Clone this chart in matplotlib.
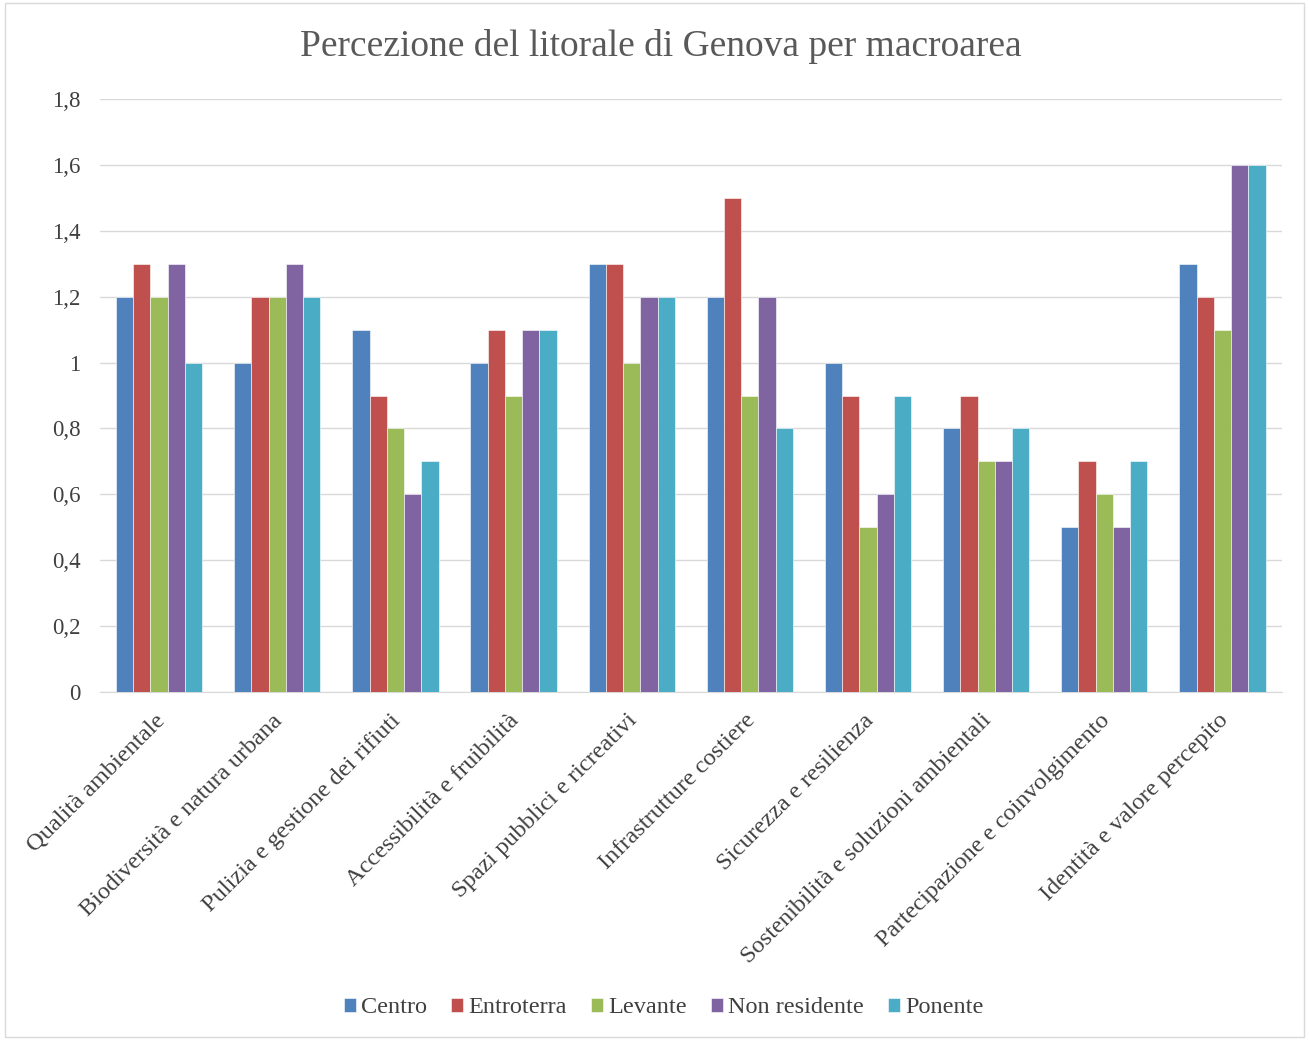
import matplotlib
matplotlib.use("Agg")
import matplotlib.pyplot as plt
import matplotlib.transforms as mtransforms
import numpy as np
from matplotlib.patches import Rectangle

plt.rcParams['font.family'] = ['Liberation Serif', 'DejaVu Serif']

categories = ["Qualità ambientale", "Biodiversità e natura urbana", "Pulizia e gestione dei rifiuti",
              "Accessibilità e fruibilità", "Spazi pubblici e ricreativi", "Infrastrutture costiere",
              "Sicurezza e resilienza", "Sostenibilità e soluzioni ambientali",
              "Partecipazione e coinvolgimento", "Identità e valore percepito"]
series_names = ["Centro", "Entroterra", "Levante", "Non residente", "Ponente"]
centro = [1.2, 1.0, 1.1, 1.0, 1.3, 1.2, 1.0, 0.8, 0.5, 1.3]
entroterra = [1.3, 1.2, 0.9, 1.1, 1.3, 1.5, 0.9, 0.9, 0.7, 1.2]
levante = [1.2, 1.2, 0.8, 0.9, 1.0, 0.9, 0.5, 0.7, 0.6, 1.1]
non_residente = [1.3, 1.3, 0.6, 1.1, 1.2, 1.2, 0.6, 0.7, 0.5, 1.6]
ponente = [1.0, 1.2, 0.7, 1.1, 1.2, 0.8, 0.9, 0.8, 0.7, 1.6]
yticks = [0, 0.2, 0.4, 0.6, 0.8, 1.0, 1.2, 1.4, 1.6, 1.8]
ytick_labels = ["0", "0,2", "0,4", "0,6", "0,8", "1", "1,2", "1,4", "1,6", "1,8"]
colors = ["#4F81BD", "#C0504D", "#9BBB59", "#8064A2", "#4BACC6"]

data = [centro, entroterra, levante, non_residente, ponente]

fig = plt.figure(figsize=(13.09, 10.4), dpi=100)
fig.patches.append(Rectangle((0.004, 0.003), 0.992, 0.994, transform=fig.transFigure,
                             fill=False, edgecolor="#D9D9D9", linewidth=1))
ax = fig.add_axes([0.0764, 0.3346, 0.9026, 0.5702])

x = np.arange(len(categories))
bw = 0.146
for i, (vals, c, name) in enumerate(zip(data, colors, series_names)):
    ax.bar(x + (i - 2) * bw, vals, width=bw, color=c, label=name, zorder=3,
           edgecolor="white", linewidth=0.4)

ax.set_xlim(-0.5, len(categories) - 0.5)
ax.set_ylim(0, 1.8)
ax.set_yticks(yticks)
ax.set_yticklabels(ytick_labels, fontsize=16.5, color="#404040")
ax.yaxis.grid(True, color="#D9D9D9", linewidth=1, zorder=0)
ax.set_xticks(x)
ax.set_xticklabels(categories, rotation=45, ha="right", rotation_mode="anchor",
                   fontsize=17.6, color="#404040")
ax.tick_params(axis="both", length=0)
ax.tick_params(axis="y", pad=14)
ax.tick_params(axis="x", pad=13)
offset = mtransforms.ScaledTranslation(-5 / 100, 0, fig.dpi_scale_trans)
for lbl in ax.get_xticklabels():
    lbl.set_transform(lbl.get_transform() + offset)
for s in ["top", "right", "left"]:
    ax.spines[s].set_visible(False)
ax.spines["bottom"].set_color("#D9D9D9")

fig.text(0.505, 0.955, "Percezione del litorale di Genova per macroarea", ha="center", va="center",
         fontsize=27, color="#595959")

leg = fig.legend(loc="center", bbox_to_anchor=(0.507, 0.031), ncol=5, frameon=False,
                 fontsize=17.5, handlelength=0.5, handleheight=0.5, handletextpad=0.2,
                 columnspacing=1.0)
for t in leg.get_texts():
    t.set_color("#404040")

fig.savefig("out.png", dpi=100)
